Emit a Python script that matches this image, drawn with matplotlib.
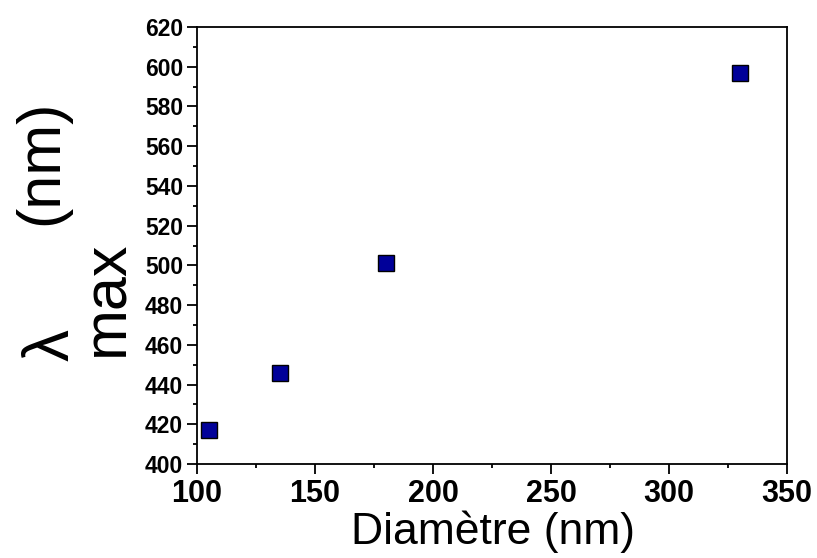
import matplotlib
matplotlib.use("Agg")
import matplotlib.pyplot as plt
from matplotlib.ticker import MultipleLocator

diameter = [105, 135, 180, 330]
lambda_max = [417, 446, 501, 597]
xticks = [100, 150, 200, 250, 300, 350]
yticks = list(range(400, 621, 20))

plt.rcParams['font.family'] = ['Liberation Sans', 'DejaVu Sans']
fig = plt.figure(figsize=(8.17, 5.58), dpi=100)
ax = fig.add_axes([197/817, 1-464/558, (787-197)/817, (464-27)/558])
ax.plot(diameter, lambda_max, 's', color='#000099', markersize=11.5, markeredgecolor='black', markeredgewidth=1)
ax.set_xlim(100, 350)
ax.set_ylim(400, 620)
ax.set_xticks(xticks)
ax.set_yticks(yticks)
ax.xaxis.set_minor_locator(MultipleLocator(25))
ax.yaxis.set_minor_locator(MultipleLocator(10))
ax.tick_params(which='major', direction='out', length=7, width=1.3, top=False, right=False)
ax.tick_params(which='minor', direction='out', length=3, width=1.3, top=False, right=False)
ax.tick_params(axis='x', labelsize=22, pad=4)
ax.tick_params(axis='y', labelsize=16.5, pad=3)
for lab in ax.get_xticklabels() + ax.get_yticklabels():
    lab.set_fontweight('bold')
for s in ax.spines.values():
    s.set_linewidth(1.3)
fig.text(493/817, 1-532/558, 'Diamètre (nm)', fontsize=32, ha='center', va='center')
fig.text(52/817, 1-345/558, 'λ', fontsize=46, rotation=90, ha='center', va='center')
fig.text(108/817, 1-298/558, 'max', fontsize=44, rotation=90, ha='center', va='center')
fig.text(42/817, 1-162/558, '(nm)', fontsize=44, rotation=90, ha='center', va='center')
fig.savefig('out.png', dpi=100)
